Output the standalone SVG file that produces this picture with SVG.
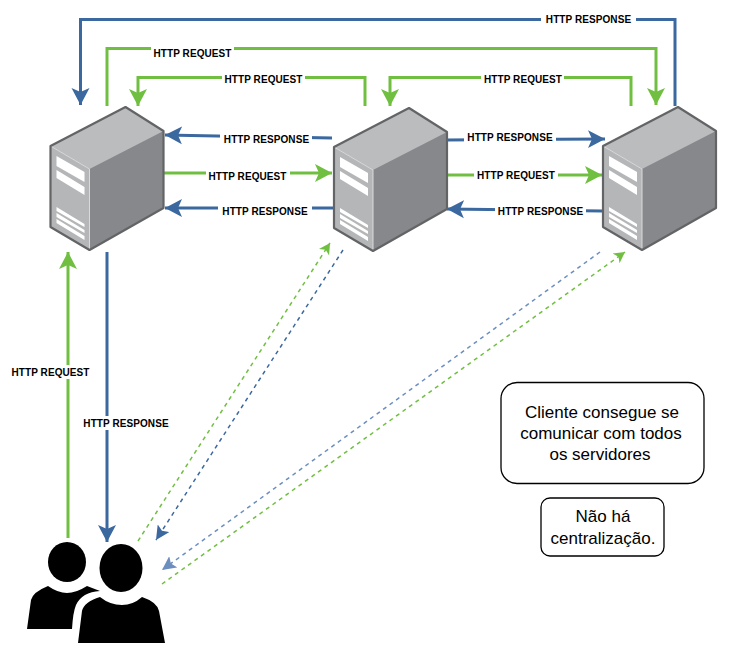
<svg xmlns="http://www.w3.org/2000/svg" width="735" height="652" viewBox="0 0 735 652">
<style>
.g{stroke:#70bf41;fill:none;stroke-width:3}
.b{stroke:#3a689f;fill:none;stroke-width:3}
.dg{stroke:#70bf41;fill:none;stroke-width:1.500;stroke-dasharray:4 4}
.db{stroke:#3a689f;fill:none;stroke-width:1.500;stroke-dasharray:4 4}
.dl{stroke:#6c8ebf;fill:none;stroke-width:1.500;stroke-dasharray:4 4}
.l{font:bold 10px "Liberation Sans",Arial,sans-serif;fill:#000;text-anchor:middle;letter-spacing:.08px}
.t{font:17px "Liberation Sans",Arial,sans-serif;fill:#000;text-anchor:middle}
.box{fill:#fff;stroke:#000;stroke-width:1.300}
.gap{fill:#fff}
</style>
<defs>
<marker id="ag" markerUnits="userSpaceOnUse" markerWidth="20" markerHeight="20" refX="17" refY="9" orient="auto" viewBox="0 0 20 18"><path d="M17,9 L0,0 L4,9 L0,18Z" fill="#70bf41"/></marker>
<marker id="ab" markerUnits="userSpaceOnUse" markerWidth="20" markerHeight="20" refX="17" refY="9" orient="auto" viewBox="0 0 20 18"><path d="M17,9 L0,0 L4,9 L0,18Z" fill="#3a689f"/></marker>
<marker id="sg" markerUnits="userSpaceOnUse" markerWidth="14" markerHeight="14" refX="11" refY="6" orient="auto" viewBox="0 0 14 12"><path d="M11,6 L0,0 L3,6 L0,12Z" fill="#70bf41"/></marker>
<marker id="sb" markerUnits="userSpaceOnUse" markerWidth="14" markerHeight="14" refX="14" refY="7" orient="auto" viewBox="0 0 14 14"><path d="M14,7 L0,0 L3,7 L0,14Z" fill="#3a689f"/></marker>
<marker id="sl" markerUnits="userSpaceOnUse" markerWidth="14" markerHeight="14" refX="14" refY="7" orient="auto" viewBox="0 0 14 14"><path d="M14,7 L0,0 L3,7 L0,14Z" fill="#6c8ebf"/></marker>
<g id="srv">
<path d="M0,39 L75,0 L113,24 L113,101 L39,143 L0,120Z" fill="#87888b"/>
<path d="M0,39 L75,0 L113,24 L39,62Z" fill="#bbbcbe"/>
<path d="M0,39 L39,62 L39,143 L0,120Z" fill="#b5b6b8"/>
<path d="M0,39 L39,62 L39,143" fill="none" stroke="#d9dadb" stroke-width="1"/>
<path d="M0,39 L75,0 L113,24 L113,101 L39,143 L0,120Z" fill="none" stroke="#636466" stroke-width="2.200" stroke-linejoin="round"/>
<path d="M6,49 L34,65 L34,75 L6,59Z M6,63 L34,80 L34,88 L6,71Z M6,100 L34,117 L34,120 L6,104Z M6,106 L34,123 L34,126 L6,110Z M6,112 L34,129 L34,133 L6,116Z" fill="#fff"/>
</g>
</defs>
<g id="connectors">
<path class="b" d="M675,106 V19.500 H80.500 V105" marker-end="url(#ab)"/>
<path class="g" d="M107,106 V48.500 H656 V105" marker-end="url(#ag)"/>
<path class="g" d="M365,106 V77.500 H138 V106" marker-end="url(#ag)"/>
<path class="g" d="M631,106 V77.500 H390 V106" marker-end="url(#ag)"/>
<path class="b" d="M332,138 L165,135" marker-end="url(#ab)"/>
<path class="g" d="M164,173 L332,173" marker-end="url(#ag)"/>
<path class="b" d="M333,208 L165,208" marker-end="url(#ab)"/>
<path class="b" d="M447,140 L605,139" marker-end="url(#ab)"/>
<path class="g" d="M447,175 L602,175" marker-end="url(#ag)"/>
<path class="b" d="M602,211 L447,209" marker-end="url(#ab)"/>
<path class="g" d="M68,538 L68,252" marker-end="url(#ag)"/>
<path class="b" d="M107,252 L107,542" marker-end="url(#ab)"/>
<path class="dg" d="M138,541 L330,243" marker-end="url(#sg)"/>
<path class="db" d="M343,250 L156,540" marker-end="url(#sb)"/>
<path class="dl" d="M600,252 L162,570" marker-end="url(#sl)"/>
<path class="dg" d="M162,584 L625,252" marker-end="url(#sg)"/>
<rect class="gap" x="541" y="12" width="95" height="14"/>
<rect class="gap" x="151" y="45" width="83" height="14"/>
<rect class="gap" x="222" y="73" width="83" height="13"/>
<rect class="gap" x="481" y="73" width="83" height="13"/>
<rect class="gap" x="220" y="132" width="92" height="14"/>
<rect class="gap" x="206" y="169" width="84" height="14"/>
<rect class="gap" x="218" y="204" width="94" height="14"/>
<rect class="gap" x="464" y="131" width="92" height="14"/>
<rect class="gap" x="474" y="168" width="84" height="14"/>
<rect class="gap" x="495" y="205" width="91" height="14"/>
<rect class="gap" x="10" y="365" width="82" height="14"/>
<rect class="gap" x="82" y="416" width="88" height="14"/>
<text class="l" x="588.500" y="23">HTTP RESPONSE</text>
<text class="l" x="192.500" y="56.500">HTTP REQUEST</text>
<text class="l" x="263.500" y="82.500">HTTP REQUEST</text>
<text class="l" x="523" y="82.500">HTTP REQUEST</text>
<text class="l" x="266.500" y="143">HTTP RESPONSE</text>
<text class="l" x="247.500" y="179.500">HTTP REQUEST</text>
<text class="l" x="265" y="215">HTTP RESPONSE</text>
<text class="l" x="510" y="141">HTTP RESPONSE</text>
<text class="l" x="516" y="178.500">HTTP REQUEST</text>
<text class="l" x="540.500" y="215">HTTP RESPONSE</text>
<text class="l" x="50.500" y="375.500">HTTP REQUEST</text>
<text class="l" x="126" y="426.500">HTTP RESPONSE</text>
</g>
<g id="server-1"><use href="#srv" x="50.500" y="107"/></g>
<g id="server-2"><use href="#srv" x="334" y="108"/></g>
<g id="server-3"><use href="#srv" x="603" y="107"/></g>
<g id="clients">
<ellipse cx="67" cy="562" rx="19" ry="20"/>
<path d="M27,629 L31,600 Q33,592 48,586 Q58,593 67,593 Q76,593 87,586 L100,591 Q82,592 76,605 Q73,612 72,629Z"/>
<ellipse cx="121" cy="568" rx="21.500" ry="24"/>
<path d="M78,643 L82,611 Q84,602 100,597 Q110,605 122,605 Q133,605 142,597 Q157,602 159,611 L165,643Z"/>
</g>
<g id="note-1">
<rect class="box" x="501" y="382.500" width="203" height="101" rx="16"/>
<text class="t" x="602" y="418">Cliente consegue se</text>
<text class="t" x="601" y="438.500">comunicar com todos</text>
<text class="t" x="600" y="460">os servidores</text>
</g>
<g id="note-2">
<rect class="box" x="541" y="498" width="123" height="58" rx="9"/>
<text class="t" x="603" y="522">Não há</text>
<text class="t" x="603" y="544">centralização.</text>
</g>
</svg>
